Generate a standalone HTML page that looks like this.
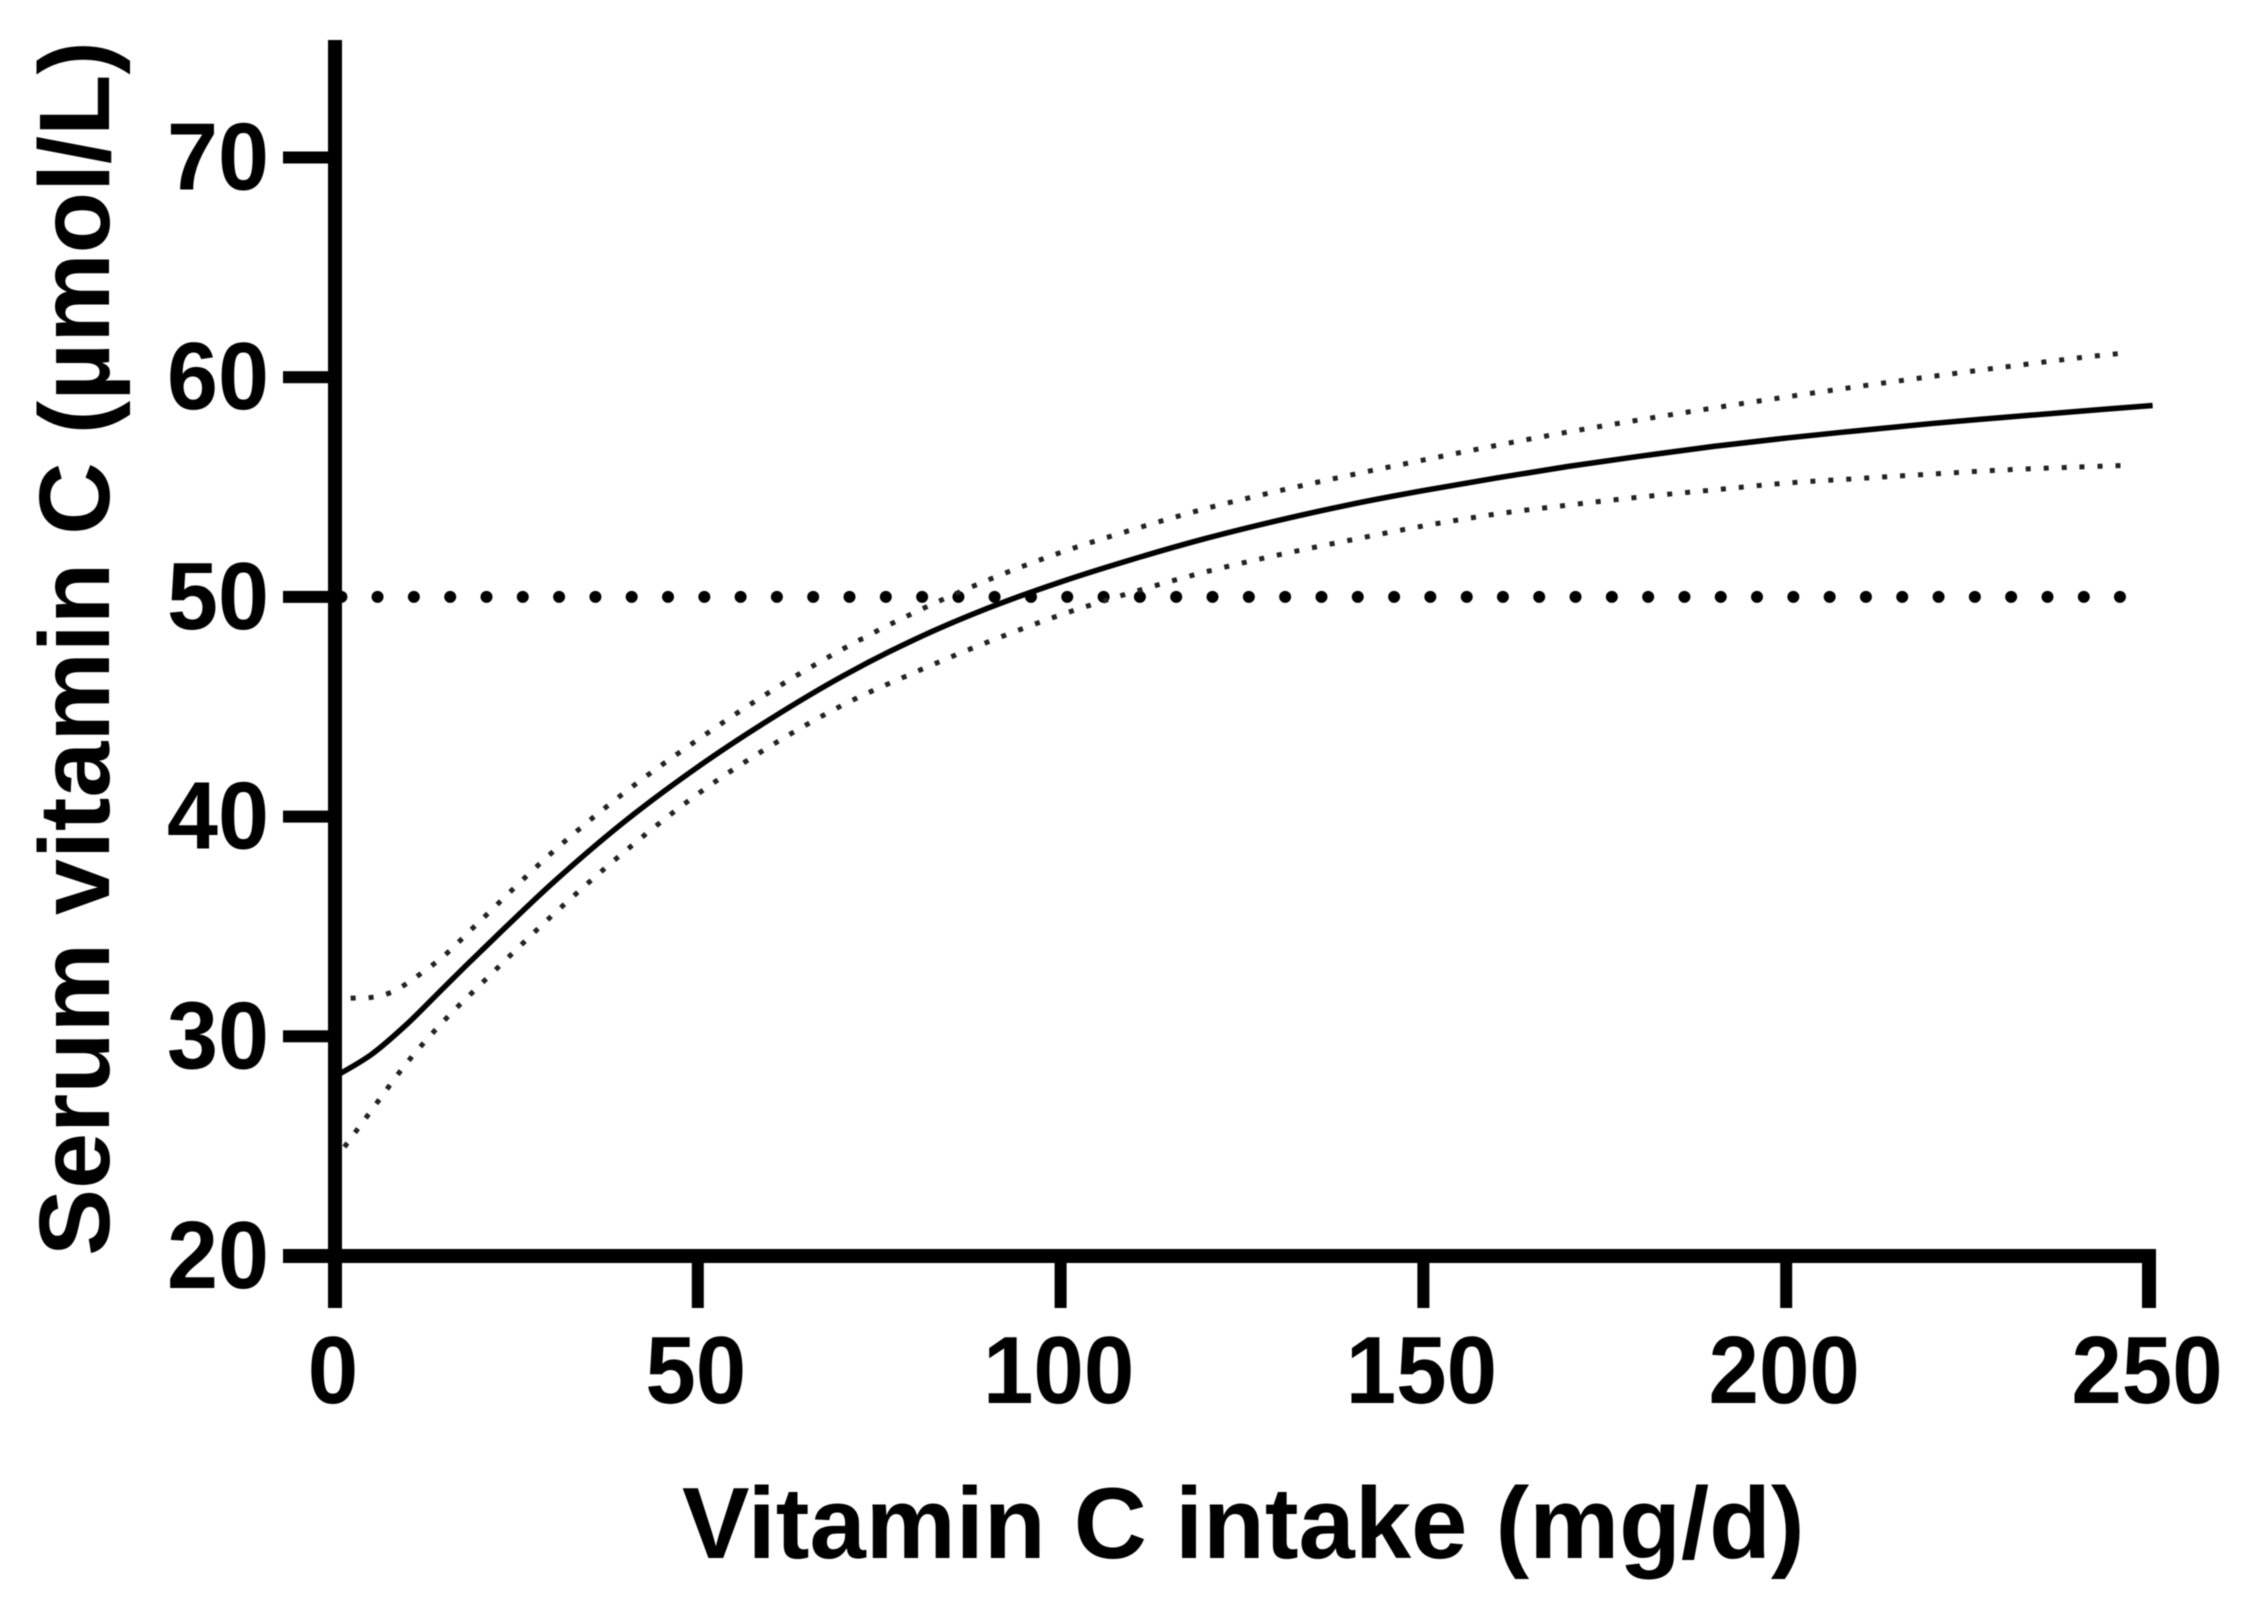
<!DOCTYPE html>
<html lang="en">
<head>
<meta charset="utf-8">
<title>Serum vitamin C vs vitamin C intake</title>
<style>
  html, body { margin: 0; padding: 0; background: #fff; }
  body { width: 2241px; height: 1600px; overflow: hidden; }
  svg { display: block; filter: blur(0.5px); }
  text { font-family: "Liberation Sans", Arial, sans-serif; font-weight: 700; fill: #000; }
</style>
</head>
<body>
<svg id="chart" xmlns="http://www.w3.org/2000/svg" width="2241" height="1600" viewBox="0 0 2241 1600">
  <rect x="0" y="0" width="2241" height="1600" fill="#fff"></rect>
</svg>
<script>
// ---- chart data ----
const xTickValues = [0, 50, 100, 150, 200, 250];
const yTickValues = [20, 30, 40, 50, 60, 70];
const xTickLabels = ['0', '50', '100', '150', '200', '250'];
const yTickLabels = ['20', '30', '40', '50', '60', '70'];

const meanIntake = [0, 5, 10, 15, 20, 30, 40, 50, 60, 70, 80, 90, 100, 110, 120, 130, 140, 150, 160, 170, 180, 190, 200, 210, 220, 230, 240, 250.5];
const meanSerum = [28.17, 29.17, 30.58, 32.22, 33.84, 36.98, 39.8, 42.26, 44.44, 46.4, 48.08, 49.49, 50.68, 51.72, 52.66, 53.48, 54.21, 54.84, 55.41, 55.94, 56.41, 56.85, 57.23, 57.57, 57.89, 58.17, 58.44, 58.71];

const upperIntake = [2.5, 5, 7.5, 10, 15, 20, 30, 40, 50, 60, 70, 80, 90, 100, 110, 120, 130, 140, 150, 160, 170, 180, 190, 200, 210, 220, 230, 240, 247.8];
const upperSerum = [31.74, 31.77, 31.97, 32.43, 33.66, 35.25, 38.39, 41.12, 43.5, 45.69, 47.63, 49.31, 50.77, 52.02, 53.07, 54.02, 54.82, 55.55, 56.23, 56.89, 57.51, 58.07, 58.6, 59.1, 59.58, 60.03, 60.46, 60.87, 61.14];

const lowerIntake = [1.5, 5, 10, 15, 20, 30, 40, 50, 60, 70, 80, 90, 100, 110, 120, 130, 140, 150, 160, 170, 180, 190, 200, 210, 220, 230, 240, 248.2];
const lowerSerum = [25.05, 26.62, 28.83, 30.7, 32.34, 35.52, 38.43, 41.03, 43.21, 45.08, 46.58, 47.95, 49.18, 50.22, 51.14, 51.91, 52.59, 53.23, 53.77, 54.18, 54.55, 54.87, 55.18, 55.39, 55.59, 55.78, 55.91, 56.0];

const thresholdIntake = [0.88, 246.0];
const thresholdSerum = [50, 50];

// ---- axis functions ----
const xScale = v => 335 + v * 7.256;
const yScale = v => 1256 - (v - 20) * 21.97;

const NS = 'http://www.w3.org/2000/svg';
const svg = document.getElementById('chart');

function make(tag, attrs, text) {
  const el = document.createElementNS(NS, tag);
  for (const k in attrs) el.setAttribute(k, attrs[k]);
  if (text !== undefined) el.textContent = text;
  svg.appendChild(el);
  return el;
}

// Catmull-Rom smoothing through the data points
function curvePath(xs, ys) {
  const p = xs.map((x, i) => [xScale(x), yScale(ys[i])]);
  let d = 'M' + p[0][0].toFixed(2) + ' ' + p[0][1].toFixed(2);
  for (let i = 0; i < p.length - 1; i++) {
    const p0 = p[Math.max(i - 1, 0)], p1 = p[i], p2 = p[i + 1], p3 = p[Math.min(i + 2, p.length - 1)];
    const c1x = p1[0] + (p2[0] - p0[0]) / 6, c1y = p1[1] + (p2[1] - p0[1]) / 6;
    const c2x = p2[0] - (p3[0] - p1[0]) / 6, c2y = p2[1] - (p3[1] - p1[1]) / 6;
    d += 'C' + c1x.toFixed(2) + ' ' + c1y.toFixed(2) + ' ' + c2x.toFixed(2) + ' ' + c2y.toFixed(2) + ' ' + p2[0].toFixed(2) + ' ' + p2[1].toFixed(2);
  }
  return d;
}

// Space dots so one lands exactly on each end of the path
function spaceDots(path, pitch) {
  const len = path.getTotalLength();
  const count = Math.max(1, Math.round(len / pitch));
  const step = (len - 0.02) / count;
  path.setAttribute('stroke-dasharray', '0.01 ' + (step - 0.01).toFixed(4));
}

// ---- series ----
const thresholdLine = make('path', { d: curvePath(thresholdIntake, thresholdSerum), fill: 'none', stroke: '#000', 'stroke-width': 12, 'stroke-linecap': 'round' });


spaceDots(thresholdLine, 36.3);

const upperLine = make('path', { d: curvePath(upperIntake, upperSerum), fill: 'none', stroke: '#222', 'stroke-width': 5, 'stroke-linecap': 'square' });


spaceDots(upperLine, 17.95);

const lowerLine = make('path', { d: curvePath(lowerIntake, lowerSerum), fill: 'none', stroke: '#222', 'stroke-width': 5, 'stroke-linecap': 'square' });


spaceDots(lowerLine, 17.95);

const meanLine = make('path', { d: curvePath(meanIntake, meanSerum), fill: 'none', stroke: '#000', 'stroke-width': 5.5 });



// ---- axes ----
const yAxisLine = make('rect', { x: 328, y: 40, width: 14, height: 1268, fill: '#000' });



const xAxisLine = make('rect', { x: 283, y: 1249, width: 1873, height: 14, fill: '#000' });



yTickValues.forEach((v, i) => {
  const tick = make('rect', { x: 283, y: yScale(v) - 6, width: 50, height: 12, fill: '#000' });
  
  
  const label = make('text', { x: 0, y: 0, 'font-size': 96, 'text-anchor': 'end', transform: 'translate(269 ' + (yScale(v) + 32) + ') scale(0.955 1)' }, yTickLabels[i]);
  
  
});

xTickValues.forEach((v, i) => {
  const w = (v === 0 || v === 250) ? 14 : 12;
  const tick = make('rect', { x: xScale(v) - w / 2, y: 1255, width: w, height: 53, fill: '#000' });
  
  
  const label = make('text', { x: 0, y: 0, 'font-size': 96, 'text-anchor': 'middle', transform: 'translate(' + (xScale(v) - 2) + ' 1403) scale(0.945 1)' }, xTickLabels[i]);
  
  
});

// ---- axis titles ----
const xTitle = make('text', { x: 682, y: 1558, 'font-size': 101.2 }, 'Vitamin C intake (mg/d)');



const yTitle = make('text', { x: 0, y: 0, 'font-size': 100.6, transform: 'translate(109 1256) rotate(-90)' }, 'Serum vitamin C (\u00B5mol/L)');


</script>
</body>
</html>
